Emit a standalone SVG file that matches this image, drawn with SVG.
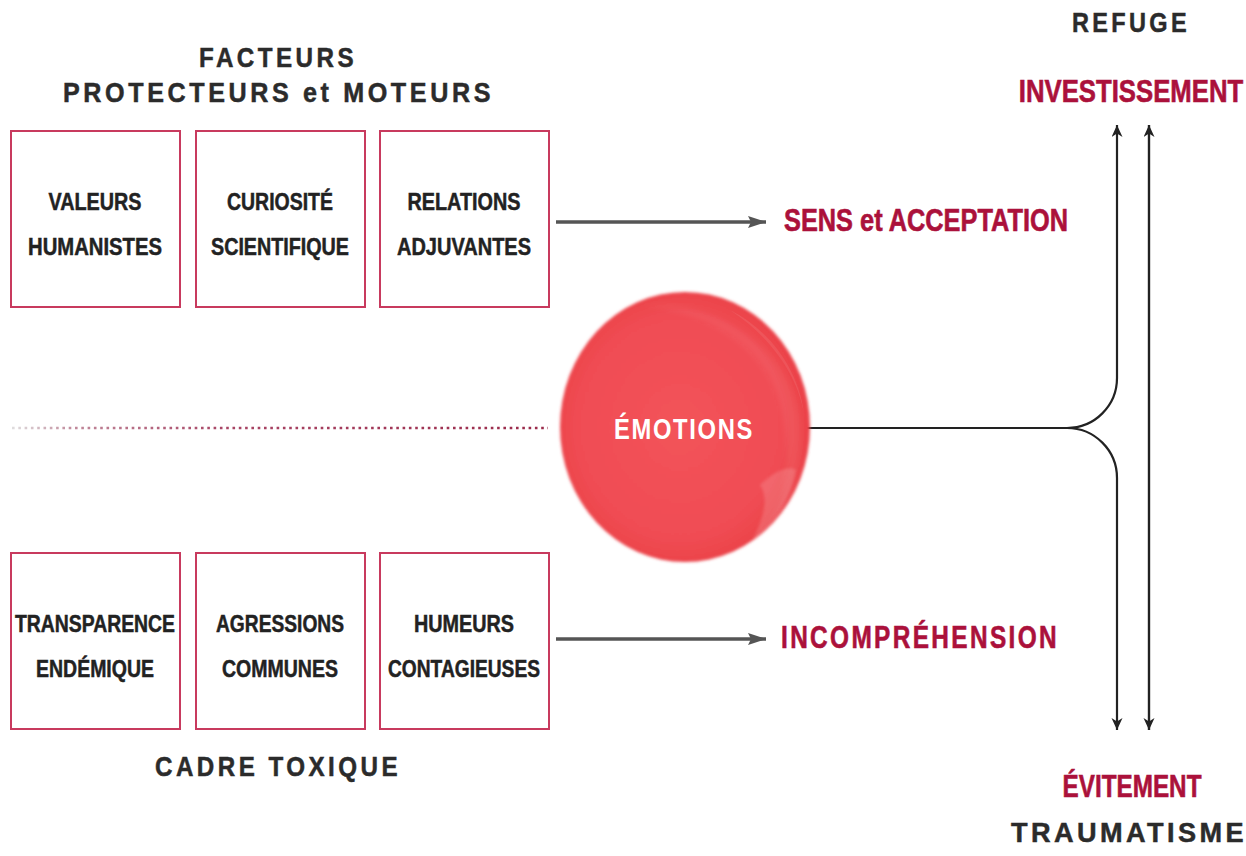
<svg xmlns="http://www.w3.org/2000/svg" width="1246" height="856" viewBox="0 0 1246 856">
<style>
  .box { fill: #ffffff; stroke: #c83a5e; stroke-width: 2; }
  .lbl { font-family: "Liberation Sans", Arial, sans-serif; font-weight: bold; font-size: 24.5px; fill: #222222; stroke: #222222; stroke-width: 0.5; text-anchor: middle; }
  .hdr { font-family: "Liberation Sans", Arial, sans-serif; font-weight: bold; font-size: 28px; fill: #2b2b2b; stroke: #2b2b2b; stroke-width: 0.5; text-anchor: middle; }
  .red { font-family: "Liberation Sans", Arial, sans-serif; font-weight: bold; font-size: 31px; fill: #ab113b; stroke: #ab113b; stroke-width: 0.6; text-anchor: middle; }
  .emo { font-family: "Liberation Sans", Arial, sans-serif; font-weight: bold; font-size: 29px; fill: #ffffff; text-anchor: middle; }
  .garrow { stroke: #555555; stroke-width: 3.5; fill: none; }
  .blk { stroke: #222222; stroke-width: 2.2; fill: none; }
</style>
<defs>
  <marker id="gHead" markerUnits="userSpaceOnUse" markerWidth="20" markerHeight="14" refX="18" refY="6.5" orient="auto">
    <path d="M0,0.5 L18,6.5 L0,12.5 L3,6.5 z" fill="#555555"/>
  </marker>
  <marker id="bHead" markerUnits="userSpaceOnUse" markerWidth="14" markerHeight="12" refX="12" refY="5.5" orient="auto">
    <path d="M0,0 L12,5.5 L0,11 L3.5,5.5 z" fill="#222222"/>
  </marker>
  <linearGradient id="dotGrad" gradientUnits="userSpaceOnUse" x1="10" y1="0" x2="548" y2="0">
    <stop offset="0" stop-color="#e0e0e0"/>
    <stop offset="0.12" stop-color="#c0889a"/>
    <stop offset="0.4" stop-color="#a84565"/>
    <stop offset="1" stop-color="#9a2a4a"/>
  </linearGradient>
  <radialGradient id="ballGrad" cx="0.48" cy="0.5" r="0.55">
    <stop offset="0" stop-color="#f3535a"/>
    <stop offset="0.75" stop-color="#f04c53"/>
    <stop offset="0.93" stop-color="#eb4249"/>
    <stop offset="1" stop-color="#e63e45"/>
  </radialGradient>
  <filter id="soft" x="-10%" y="-10%" width="120%" height="120%">
    <feGaussianBlur stdDeviation="1.8"/>
  </filter>
  <filter id="softer" x="-20%" y="-20%" width="140%" height="140%">
    <feGaussianBlur stdDeviation="3"/>
  </filter>
</defs>

<rect width="1246" height="856" fill="#ffffff"/>

<!-- headers -->
<g id="hdr-facteurs">
  <text class="hdr" x="278" y="67" textLength="158" lengthAdjust="spacingAndGlyphs" letter-spacing="4">FACTEURS</text>
  <text class="hdr" x="278.5" y="102" textLength="431" lengthAdjust="spacingAndGlyphs" letter-spacing="4">PROTECTEURS et MOTEURS</text>
</g>
<g id="hdr-cadre">
  <text class="hdr" x="278" y="776" font-size="25.5" textLength="246" lengthAdjust="spacingAndGlyphs" letter-spacing="4">CADRE TOXIQUE</text>
</g>
<g id="hdr-refuge">
  <text class="hdr" x="1131" y="32" font-size="26.5" textLength="118" lengthAdjust="spacingAndGlyphs" letter-spacing="4">REFUGE</text>
</g>
<g id="hdr-traumatisme">
  <text class="hdr" transform="translate(1129,842) scale(0.97,1)" x="0" y="0" font-size="26" letter-spacing="3.5">TRAUMATISME</text>
</g>

<!-- connectors -->
<g id="connectors">
  <line x1="12" y1="428" x2="548" y2="428" stroke="url(#dotGrad)" stroke-width="2.6" stroke-dasharray="2.6 3.7"/>
  <line class="garrow" x1="556" y1="222" x2="766" y2="222" marker-end="url(#gHead)"/>
  <line class="garrow" x1="556" y1="639" x2="766" y2="639" marker-end="url(#gHead)"/>
  <line class="blk" x1="806" y1="428" x2="1067" y2="428" stroke-width="2.6"/>
  <path class="blk" d="M1067,428 A50,50 0 0 0 1117,378 L1117,125" marker-end="url(#bHead)"/>
  <path class="blk" d="M1067,428 A50,50 0 0 1 1117,478 L1117,730" marker-end="url(#bHead)"/>
  <line class="blk" x1="1149" y1="730" x2="1149" y2="125" marker-end="url(#bHead)"/>
  <line class="blk" x1="1149" y1="125" x2="1149" y2="730" marker-end="url(#bHead)"/>
</g>

<!-- top boxes -->
<g id="n-valeurs">
  <rect class="box" x="11" y="131" width="169" height="176"/>
  <text class="lbl" x="95" y="210" textLength="93" lengthAdjust="spacingAndGlyphs">VALEURS</text>
  <text class="lbl" x="95" y="255" textLength="134" lengthAdjust="spacingAndGlyphs">HUMANISTES</text>
</g>
<g id="n-curiosite">
  <rect class="box" x="196" y="131" width="169" height="176"/>
  <text class="lbl" x="280" y="210" textLength="106" lengthAdjust="spacingAndGlyphs">CURIOSITÉ</text>
  <text class="lbl" x="280" y="255" textLength="138" lengthAdjust="spacingAndGlyphs">SCIENTIFIQUE</text>
</g>
<g id="n-relations">
  <rect class="box" x="380" y="131" width="169" height="176"/>
  <text class="lbl" x="464" y="210" textLength="113" lengthAdjust="spacingAndGlyphs">RELATIONS</text>
  <text class="lbl" x="464" y="255" textLength="134" lengthAdjust="spacingAndGlyphs">ADJUVANTES</text>
</g>

<!-- bottom boxes -->
<g id="n-transparence">
  <rect class="box" x="11" y="553" width="169" height="176"/>
  <text class="lbl" x="95" y="632" textLength="160" lengthAdjust="spacingAndGlyphs">TRANSPARENCE</text>
  <text class="lbl" x="95" y="677" textLength="118" lengthAdjust="spacingAndGlyphs">ENDÉMIQUE</text>
</g>
<g id="n-agressions">
  <rect class="box" x="196" y="553" width="169" height="176"/>
  <text class="lbl" x="280" y="632" textLength="128" lengthAdjust="spacingAndGlyphs">AGRESSIONS</text>
  <text class="lbl" x="280" y="677" textLength="116" lengthAdjust="spacingAndGlyphs">COMMUNES</text>
</g>
<g id="n-humeurs">
  <rect class="box" x="380" y="553" width="169" height="176"/>
  <text class="lbl" x="464" y="632" textLength="100" lengthAdjust="spacingAndGlyphs">HUMEURS</text>
  <text class="lbl" x="464" y="677" textLength="152" lengthAdjust="spacingAndGlyphs">CONTAGIEUSES</text>
</g>

<!-- emotions ball -->
<g id="n-emotions">
  <ellipse cx="685" cy="427" rx="125" ry="135" fill="url(#ballGrad)" filter="url(#soft)"/>
  <path d="M640,305 C720,300 790,350 800,420 C805,470 790,520 760,545 C790,500 795,440 775,390 C755,340 700,310 640,305 z" fill="#ffffff" opacity="0.06" filter="url(#softer)"/>
  <path d="M730,310 C770,330 800,370 805,420 C800,380 775,340 730,310 z" fill="#ffffff" opacity="0.08"/>
  <path d="M760,485 C775,470 790,465 796,470 C790,500 775,525 752,542 C762,520 770,500 760,485 z" fill="#ffffff" opacity="0.15" filter="url(#soft)"/>
  <text class="emo" x="684" y="439" textLength="140" lengthAdjust="spacingAndGlyphs" letter-spacing="2">ÉMOTIONS</text>
</g>

<!-- outcomes -->
<g id="n-sens">
  <text class="red" x="926" y="231" font-size="32" textLength="284" lengthAdjust="spacingAndGlyphs">SENS et ACCEPTATION</text>
</g>
<g id="n-incomprehension">
  <text class="red" x="920" y="648" font-size="30" textLength="278" lengthAdjust="spacingAndGlyphs" letter-spacing="3">INCOMPRÉHENSION</text>
</g>
<g id="n-investissement">
  <text class="red" transform="translate(1131,102) scale(0.83,1)" x="0" y="0" font-size="29">INVESTISSEMENT</text>
</g>
<g id="n-evitement">
  <text class="red" x="1132" y="797" font-size="30" textLength="139" lengthAdjust="spacingAndGlyphs">ÉVITEMENT</text>
</g>
</svg>
